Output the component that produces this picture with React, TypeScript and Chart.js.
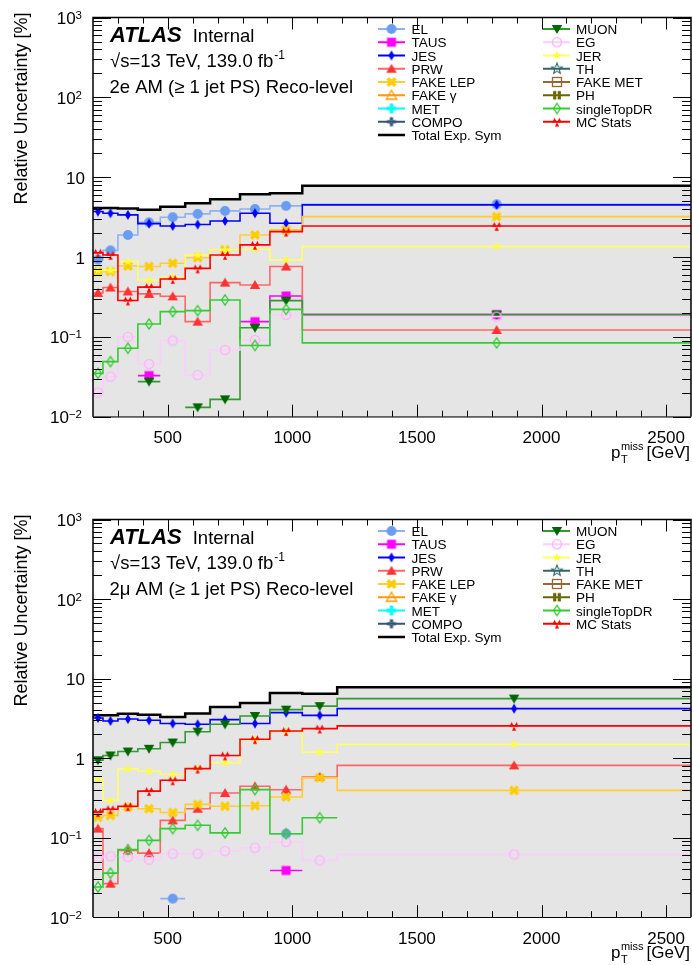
import { useEffect, useRef } from "react";
import { Chart, registerables } from "chart.js";

Chart.register(...registerables);

// ---------- binning in p_T^miss [GeV] ----------
const eeBinEdges = [200, 240, 300, 380, 470, 570, 670, 790, 910, 1040, 2600];
const mmBinEdges = [200, 240, 300, 380, 470, 570, 670, 790, 910, 1040, 1180, 2600];

// ---------- 2e channel: relative uncertainty [%] per bin ----------
const eeTotal = [4.1, 4.1, 4.05, 3.9, 4.25, 4.7, 5.3, 6.1, 6.3, 7.8];
const eeEL = [0.93, 1.21, 1.89, 2.72, 3.15, 3.47, 3.78, 4.0, 4.37, 4.58];
const eeTAUS = [0, 0, 0, 0.0327, 0, 0, 0, 0.155, 0.325, 0.19];
const eeJES = [3.71, 3.54, 3.37, 2.62, 2.45, 2.55, 2.83, 3.54, 2.65, 4.5];
const eePRW = [0.355, 0.415, 0.37, 0.345, 0.322, 0.155, 0.478, 0.447, 0.76, 0.122];
const eeFakeLep = [0.657, 0.657, 0.773, 0.76, 0.835, 0.98, 1.23, 1.89, 2.19, 3.21];
const eeFakeGamma = [0, 0, 0, 0, 0, 0, 0, 0, 0, 0];
const eeMET = [0, 0, 0, 0, 0, 0, 0, 0, 0, 0];
const eeCOMPO = [0, 0, 0, 0, 0, 0, 0, 0, 0, 0];
const eeMUON = [0, 0, 0, 0.0275, 0, 0.0131, 0.0165, 0.13, 0.284, 0.19];
const eeEG = [0.02, 0.0317, 0.1, 0.0457, 0.0898, 0.0333, 0.0685, 0.0914, 0.188, 0.179];
const eeJER = [0.68, 0.68, 0.877, 0.512, 0.563, 1.06, 1.23, 1.25, 0.92, 1.35];
const eeTH = [0, 0, 0, 0, 0, 0, 0, 0, 0, 0];
const eeFakeMET = [0, 0, 0, 0, 0, 0, 0, 0, 0, 0];
const eePH = [0, 0, 0, 0, 0, 0, 0, 0, 0, 0];
const eeSingleTop = [0.0349, 0.049, 0.072, 0.145, 0.207, 0.213, 0.29, 0.078, 0.221, 0.084];
const eeMCStats = [1.13, 1.06, 0.285, 0.42, 0.53, 0.72, 1.06, 1.42, 2.08, 2.45];

// ---------- 2mu channel: relative uncertainty [%] per bin ----------
const mmTotal = [3.45, 3.45, 3.6, 3.52, 3.29, 3.63, 4.4, 4.94, 6.6, 6.45, 7.8];
const mmEL = [0, 0, 0, 0, 0.0171, 0, 0, 0, 0.112, 0, 0];
const mmTAUS = [0, 0, 0, 0, 0, 0, 0, 0, 0.0387, 0, 0];
const mmJES = [3.2, 2.93, 3.1, 2.99, 2.72, 2.66, 3.05, 2.72, 3.73, 3.45, 4.19];
const mmPRW = [0.13, 0.0264, 0.069, 0.064, 0.165, 0.231, 0.364, 0.442, 0.401, 0.58, 0.81];
const mmFakeLep = [0.18, 0.19, 0.243, 0.231, 0.207, 0.262, 0.248, 0.252, 0.324, 0.565, 0.393];
const mmFakeGamma = [0, 0, 0, 0, 0, 0, 0, 0, 0, 0, 0];
const mmMET = [0, 0, 0, 0, 0, 0, 0, 0, 0, 0, 0];
const mmCOMPO = [0, 0, 0, 0, 0, 0, 0, 0, 0, 0, 0];
const mmMUON = [0.94, 1.08, 1.21, 1.31, 1.57, 2.15, 2.66, 3.39, 4.07, 4.5, 5.6];
const mmEG = [0.056, 0.0582, 0.057, 0.0528, 0.0628, 0.0628, 0.0679, 0.0748, 0.0881, 0.0518, 0.0615];
const mmJER = [0.546, 0.294, 0.73, 0.685, 0.622, 0.74, 0.877, 1.72, 2.19, 1.19, 1.49];
const mmTH = [0, 0, 0, 0, 0, 0, 0, 0, 0, 0, 0];
const mmFakeMET = [0, 0, 0, 0, 0, 0, 0, 0, 0, 0, 0];
const mmPH = [0, 0, 0, 0, 0, 0, 0, 0, 0, 0, 0];
const mmSingleTop = [0.024, 0.0358, 0.0708, 0.0925, 0.13, 0.143, 0.115, 0.402, 0.112, 0.178, 0];
const mmMCStats = [0.21, 0.228, 0.248, 0.385, 0.526, 0.738, 1.08, 1.73, 2.19, 2.35, 2.54];

// ---------- axis ----------
const xMin = 200;
const xMax = 2600;
const yMin = 0.01;
const yMax = 1000;
const xTickLabels = [500, 1000, 1500, 2000, 2500];
const yTickLabels = [
  { exp: 3, base: "10", sup: "3" },
  { exp: 2, base: "10", sup: "2" },
  { exp: 1, base: "10", sup: "" },
  { exp: 0, base: "1", sup: "" },
  { exp: -1, base: "10", sup: "\u22121" },
  { exp: -2, base: "10", sup: "\u22122" },
];

type MarkerKind =
  | "circle" | "openCircle" | "square" | "openSquare" | "diamond" | "openDiamond"
  | "triUp" | "openTriUp" | "triDown" | "xcross" | "plus" | "openPlus"
  | "star" | "openStar" | "fourSquares" | "threeTri";

interface SeriesStyle {
  label: string;
  line: string;
  color: string;
  kind: MarkerKind;
}

const seriesStyles: SeriesStyle[] = [
  { label: "EL", line: "#8db1f6", color: "#6a9cf2", kind: "circle" },
  { label: "TAUS", line: "#ff00ff", color: "#ff00ff", kind: "square" },
  { label: "JES", line: "#0000ff", color: "#0000ff", kind: "diamond" },
  { label: "PRW", line: "#ff6666", color: "#ff3333", kind: "triUp" },
  { label: "FAKE LEP", line: "#ffcc33", color: "#ffcc00", kind: "xcross" },
  { label: "FAKE \u03b3", line: "#ff9900", color: "#ff9900", kind: "openTriUp" },
  { label: "MET", line: "#00ffff", color: "#00ffff", kind: "plus" },
  { label: "COMPO", line: "#335577", color: "#335577", kind: "openPlus" },
  { label: "MUON", line: "#339933", color: "#006600", kind: "triDown" },
  { label: "EG", line: "#ffccff", color: "#ffb3ff", kind: "openCircle" },
  { label: "JER", line: "#ffff66", color: "#ffff33", kind: "star" },
  { label: "TH", line: "#336666", color: "#336666", kind: "openStar" },
  { label: "FAKE MET", line: "#996633", color: "#996633", kind: "openSquare" },
  { label: "PH", line: "#666600", color: "#666600", kind: "fourSquares" },
  { label: "singleTopDR", line: "#33cc33", color: "#33cc33", kind: "openDiamond" },
  { label: "MC Stats", line: "#ff0000", color: "#ff0000", kind: "threeTri" },
];

const eeValues = [eeEL, eeTAUS, eeJES, eePRW, eeFakeLep, eeFakeGamma, eeMET, eeCOMPO,
  eeMUON, eeEG, eeJER, eeTH, eeFakeMET, eePH, eeSingleTop, eeMCStats];
const mmValues = [mmEL, mmTAUS, mmJES, mmPRW, mmFakeLep, mmFakeGamma, mmMET, mmCOMPO,
  mmMUON, mmEG, mmJER, mmTH, mmFakeMET, mmPH, mmSingleTop, mmMCStats];

const FONT = '"Liberation Sans", Arial, Helvetica, sans-serif';

// ---------- markers ----------
function paintMarker(g: CanvasRenderingContext2D, kind: MarkerKind, color: string) {
  g.fillStyle = color;
  g.strokeStyle = color;
  g.lineWidth = 1.3;
  const poly = (pts: number[][], fill: boolean) => {
    g.beginPath();
    pts.forEach(([x, y], i) => (i ? g.lineTo(x, y) : g.moveTo(x, y)));
    g.closePath();
    if (fill) g.fill();
    else g.stroke();
  };
  const starPts = (ro: number, ri: number) => {
    const pts: number[][] = [];
    for (let i = 0; i < 10; i++) {
      const r = i % 2 === 0 ? ro : ri;
      const a = -Math.PI / 2 + (i * Math.PI) / 5;
      pts.push([r * Math.cos(a), r * Math.sin(a)]);
    }
    return pts;
  };
  switch (kind) {
    case "circle":
      g.beginPath(); g.arc(0, 0, 5, 0, Math.PI * 2); g.fill(); break;
    case "openCircle":
      g.beginPath(); g.arc(0, 0, 4.6, 0, Math.PI * 2); g.stroke(); break;
    case "square":
      g.fillRect(-4.5, -4.5, 9, 9); break;
    case "openSquare":
      g.strokeRect(-4.5, -4.5, 9, 9); break;
    case "diamond":
      poly([[0, -5], [3, 0], [0, 5], [-3, 0]], true); break;
    case "openDiamond":
      poly([[0, -5.2], [3.5, 0], [0, 5.2], [-3.5, 0]], false); break;
    case "triUp":
      poly([[0, -5], [5.2, 4], [-5.2, 4]], true); break;
    case "openTriUp":
      poly([[0, -5], [5.2, 4], [-5.2, 4]], false); break;
    case "triDown":
      poly([[0, 5], [5.2, -4], [-5.2, -4]], true); break;
    case "xcross":
      g.lineWidth = 3.4;
      g.beginPath(); g.moveTo(-3.8, -3.8); g.lineTo(3.8, 3.8);
      g.moveTo(-3.8, 3.8); g.lineTo(3.8, -3.8); g.stroke(); break;
    case "plus":
      g.lineWidth = 3.4;
      g.beginPath(); g.moveTo(-5, 0); g.lineTo(5, 0);
      g.moveTo(0, -5); g.lineTo(0, 5); g.stroke(); break;
    case "openPlus":
      g.lineWidth = 3.2;
      g.beginPath(); g.moveTo(-4.5, 0); g.lineTo(4.5, 0);
      g.moveTo(0, -4.5); g.lineTo(0, 4.5); g.stroke();
      g.clearRect(-1, -1, 2, 2); break;
    case "star":
      poly(starPts(4.6, 1.9), true); break;
    case "openStar":
      g.lineWidth = 1.1; poly(starPts(5.6, 2.4), false); break;
    case "fourSquares":
      g.fillRect(-3.9, -4.2, 3.2, 3.8); g.fillRect(0.7, -4.2, 3.2, 3.8);
      g.fillRect(-3.9, 0.4, 3.2, 3.8); g.fillRect(0.7, 0.4, 3.2, 3.8); break;
    case "threeTri": {
      const tri = (cx: number, cy: number, s: number) =>
        poly([[cx, cy - s / 2], [cx + s / 2, cy + s / 2], [cx - s / 2, cy + s / 2]], true);
      tri(-2.4, -1.6, 4.6); tri(2.4, -1.6, 4.6); tri(0, 2.6, 4.2); break;
    }
  }
}

function makeMarker(kind: MarkerKind, color: string): HTMLCanvasElement {
  const cv = document.createElement("canvas");
  cv.width = 16;
  cv.height = 16;
  const g = cv.getContext("2d")!;
  g.translate(8, 8);
  paintMarker(g, kind, color);
  return cv;
}

// histogram bins -> step polyline (low edge, centre, high edge)
function stepPoints(edges: number[], vals: number[]) {
  const pts: { x: number; y: number }[] = [];
  vals.forEach((v, i) => {
    const lo = edges[i];
    const hi = edges[i + 1];
    pts.push({ x: lo, y: v }, { x: (lo + hi) / 2, y: v }, { x: hi, y: v });
  });
  return pts;
}

interface PanelProps {
  channel: string;
  edges: number[];
  total: number[];
  values: number[][];
  height: number;
  padTop: number;
  padBottom: number;
}

function textWidth(ctx: CanvasRenderingContext2D, s: string, font: string) {
  ctx.font = font;
  return ctx.measureText(s).width;
}

function makeDecor(channel: string, markers: HTMLCanvasElement[]) {
  return {
    id: "atlasDecor",
    beforeDatasetsDraw(chart: Chart) {
      const { ctx, chartArea: a } = chart;
      ctx.save();
      ctx.strokeStyle = "#000";
      ctx.lineWidth = 1.5;
      ctx.beginPath();
      ctx.moveTo(a.left, a.bottom);
      ctx.lineTo(a.right, a.bottom);
      ctx.stroke();
      ctx.restore();
    },
    afterDatasetsDraw(chart: Chart) {
      const { ctx, chartArea: a } = chart;
      const xs = chart.scales.x;
      const ys = chart.scales.y;
      ctx.save();
      ctx.fillStyle = "#000";
      ctx.strokeStyle = "#000";

      // frame
      ctx.lineWidth = 1.5;
      ctx.beginPath();
      ctx.moveTo(a.left, a.bottom);
      ctx.lineTo(a.left, a.top);
      ctx.lineTo(a.right, a.top);
      ctx.lineTo(a.right, a.bottom);
      ctx.stroke();

      // x ticks (bottom and top)
      ctx.lineWidth = 1;
      ctx.beginPath();
      for (let v = 300; v < xMax; v += 100) {
        const px = Math.round(xs.getPixelForValue(v)) + 0.5;
        const len = v % 500 === 0 ? 12 : 6;
        ctx.moveTo(px, a.bottom); ctx.lineTo(px, a.bottom - len);
        ctx.moveTo(px, a.top); ctx.lineTo(px, a.top + len);
      }
      // y ticks (left and right)
      for (let d = -2; d <= 3; d++) {
        for (let k = 1; k <= 9; k++) {
          if (d === 3 && k > 1) break;
          const v = k * Math.pow(10, d);
          if (v <= yMin && k > 1) continue;
          const py = Math.round(ys.getPixelForValue(v)) + 0.5;
          const len = k === 1 ? 18 : 9;
          ctx.moveTo(a.left, py); ctx.lineTo(a.left + len, py);
          ctx.moveTo(a.right, py); ctx.lineTo(a.right - len, py);
        }
      }
      ctx.stroke();

      // x tick labels
      ctx.font = `17px ${FONT}`;
      ctx.textAlign = "center";
      ctx.textBaseline = "alphabetic";
      for (const v of xTickLabels) {
        ctx.fillText(String(v), xs.getPixelForValue(v), a.bottom + 26.5);
      }

      // y tick labels
      for (const t of yTickLabels) {
        const py = ys.getPixelForValue(Math.pow(10, t.exp));
        ctx.textAlign = "left";
        if (t.sup) {
          const fb = `17px ${FONT}`;
          const fs = `11.5px ${FONT}`;
          const ws = textWidth(ctx, t.sup, fs);
          const wb = textWidth(ctx, t.base, fb);
          const right = 82;
          ctx.font = fb;
          ctx.fillText(t.base, right - ws - wb, py + 6.5);
          ctx.font = fs;
          ctx.fillText(t.sup, right - ws, py + 1.5);
        } else {
          ctx.font = `17px ${FONT}`;
          ctx.textAlign = "right";
          ctx.fillText(t.base, 85, py + 6.5);
        }
      }

      // x axis title: p_T^miss [GeV]
      {
        const base = a.bottom + 41;
        const fMain = `17px ${FONT}`;
        const fSmall = `11px ${FONT}`;
        const right = a.right - 1;
        const wGeV = textWidth(ctx, "[GeV]", fMain);
        const xGeV = right - wGeV;
        const wMiss = textWidth(ctx, "miss", fSmall);
        const xMiss = xGeV - 3 - wMiss;
        const wP = textWidth(ctx, "p", fMain);
        ctx.textAlign = "left";
        ctx.font = fMain;
        ctx.fillText("[GeV]", xGeV, base);
        ctx.fillText("p", xMiss - wP - 0.5, base);
        ctx.font = fSmall;
        ctx.fillText("miss", xMiss, base - 8);
        ctx.fillText("T", xMiss, base + 5);
      }

      // y axis title
      ctx.save();
      ctx.translate(27, a.top - 5);
      ctx.rotate(-Math.PI / 2);
      ctx.font = `18px ${FONT}`;
      ctx.textAlign = "right";
      ctx.fillText("Relative Uncertainty [%]", 0, 0);
      ctx.restore();

      // ATLAS label block
      ctx.textAlign = "left";
      ctx.font = `italic bold 22px ${FONT}`;
      ctx.fillText("ATLAS", a.left + 17, a.top + 24.2);
      ctx.font = `18.5px ${FONT}`;
      ctx.fillText("Internal", a.left + 99.7, a.top + 24.2);
      const l2 = "\u221as=13 TeV, 139.0 fb";
      ctx.fillText(l2, a.left + 17, a.top + 49.5);
      const w2 = ctx.measureText(l2).width;
      ctx.font = `12px ${FONT}`;
      ctx.fillText("-1", a.left + 17 + w2 + 1, a.top + 41.5);
      ctx.font = `18.5px ${FONT}`;
      ctx.fillText(`${channel} AM (\u2265 1 jet PS) Reco-level`, a.left + 16.5, a.top + 75.5);

      // legend
      const rowY = (i: number) => a.top + 11.5 + i * 13.25;
      const cols = [
        { x0: 378, x1: 405, xm: 391.5, xt: 411.5 },
        { x0: 543, x1: 570, xm: 557, xt: 576 },
      ];
      ctx.font = `13.5px ${FONT}`;
      seriesStyles.forEach((s, i) => {
        const c = cols[i < 8 ? 0 : 1];
        const y = rowY(i % 8);
        ctx.strokeStyle = s.line;
        ctx.lineWidth = 2;
        ctx.beginPath();
        ctx.moveTo(c.x0, y); ctx.lineTo(c.x1, y);
        ctx.stroke();
        ctx.drawImage(markers[i], c.xm - 8, y - 8);
        ctx.fillStyle = "#000";
        ctx.fillText(s.label, c.xt, y + 5);
      });
      {
        const c = cols[0];
        const y = rowY(8);
        ctx.strokeStyle = "#000";
        ctx.lineWidth = 2.5;
        ctx.beginPath();
        ctx.moveTo(c.x0, y); ctx.lineTo(c.x1, y);
        ctx.stroke();
        ctx.fillText("Total Exp. Sym", c.xt, y + 5);
      }
      ctx.restore();
    },
  };
}

function UncertaintyPanel(props: PanelProps) {
  const ref = useRef<HTMLCanvasElement>(null);
  const { channel, edges, total, values, height, padTop, padBottom } = props;

  useEffect(() => {
    const markers = seriesStyles.map((s) => makeMarker(s.kind, s.color));
    const n = seriesStyles.length;
    const datasets: any[] = [
      {
        label: "Total Exp. Sym",
        data: stepPoints(edges, total),
        borderColor: "#000000",
        borderWidth: 2.5,
        backgroundColor: "#e5e5e5",
        fill: "start",
        pointRadius: 0,
        order: 1000,
      },
    ];
    seriesStyles.forEach((s, i) => {
      datasets.push({
        label: s.label,
        data: stepPoints(edges, values[i]),
        borderColor: s.line,
        borderWidth: 1.6,
        fill: false,
        pointStyle: markers[i],
        pointRadius: (c: any) => (c.dataIndex % 3 === 1 && c.raw && c.raw.y > 0 ? 5 : 0),
        // the TH line sits on the axis floor and is drawn last
        order: s.label === "TH" ? 0 : n - i + 1,
      });
    });

    const chart = new Chart(ref.current!, {
      type: "line",
      data: { datasets },
      options: {
        animation: false,
        responsive: false,
        events: [],
        layout: { padding: { left: 93, right: 1, top: padTop, bottom: padBottom } },
        elements: { line: { tension: 0 } },
        scales: {
          x: { type: "linear", min: xMin, max: xMax, display: false },
          y: { type: "logarithmic", min: yMin, max: yMax, display: false },
        },
        plugins: { legend: { display: false }, tooltip: { enabled: false } },
      },
      plugins: [makeDecor(channel, markers) as any],
    });
    return () => chart.destroy();
  }, []);

  return (
    <canvas
      ref={ref}
      width={692}
      height={height}
      style={{ display: "block", width: 692, height }}
    />
  );
}

export default function App() {
  return (
    <div
      style={{
        position: "absolute",
        left: 0,
        top: 0,
        width: 692,
        height: 965,
        background: "#ffffff",
      }}
    >
      <UncertaintyPanel
        channel="2e"
        edges={eeBinEdges}
        total={eeTotal}
        values={eeValues}
        height={482}
        padTop={17.5}
        padBottom={65.3}
      />
      <UncertaintyPanel
        channel={"2\u03bc"}
        edges={mmBinEdges}
        total={mmTotal}
        values={mmValues}
        height={483}
        padTop={37.5}
        padBottom={47.8}
      />
    </div>
  );
}
